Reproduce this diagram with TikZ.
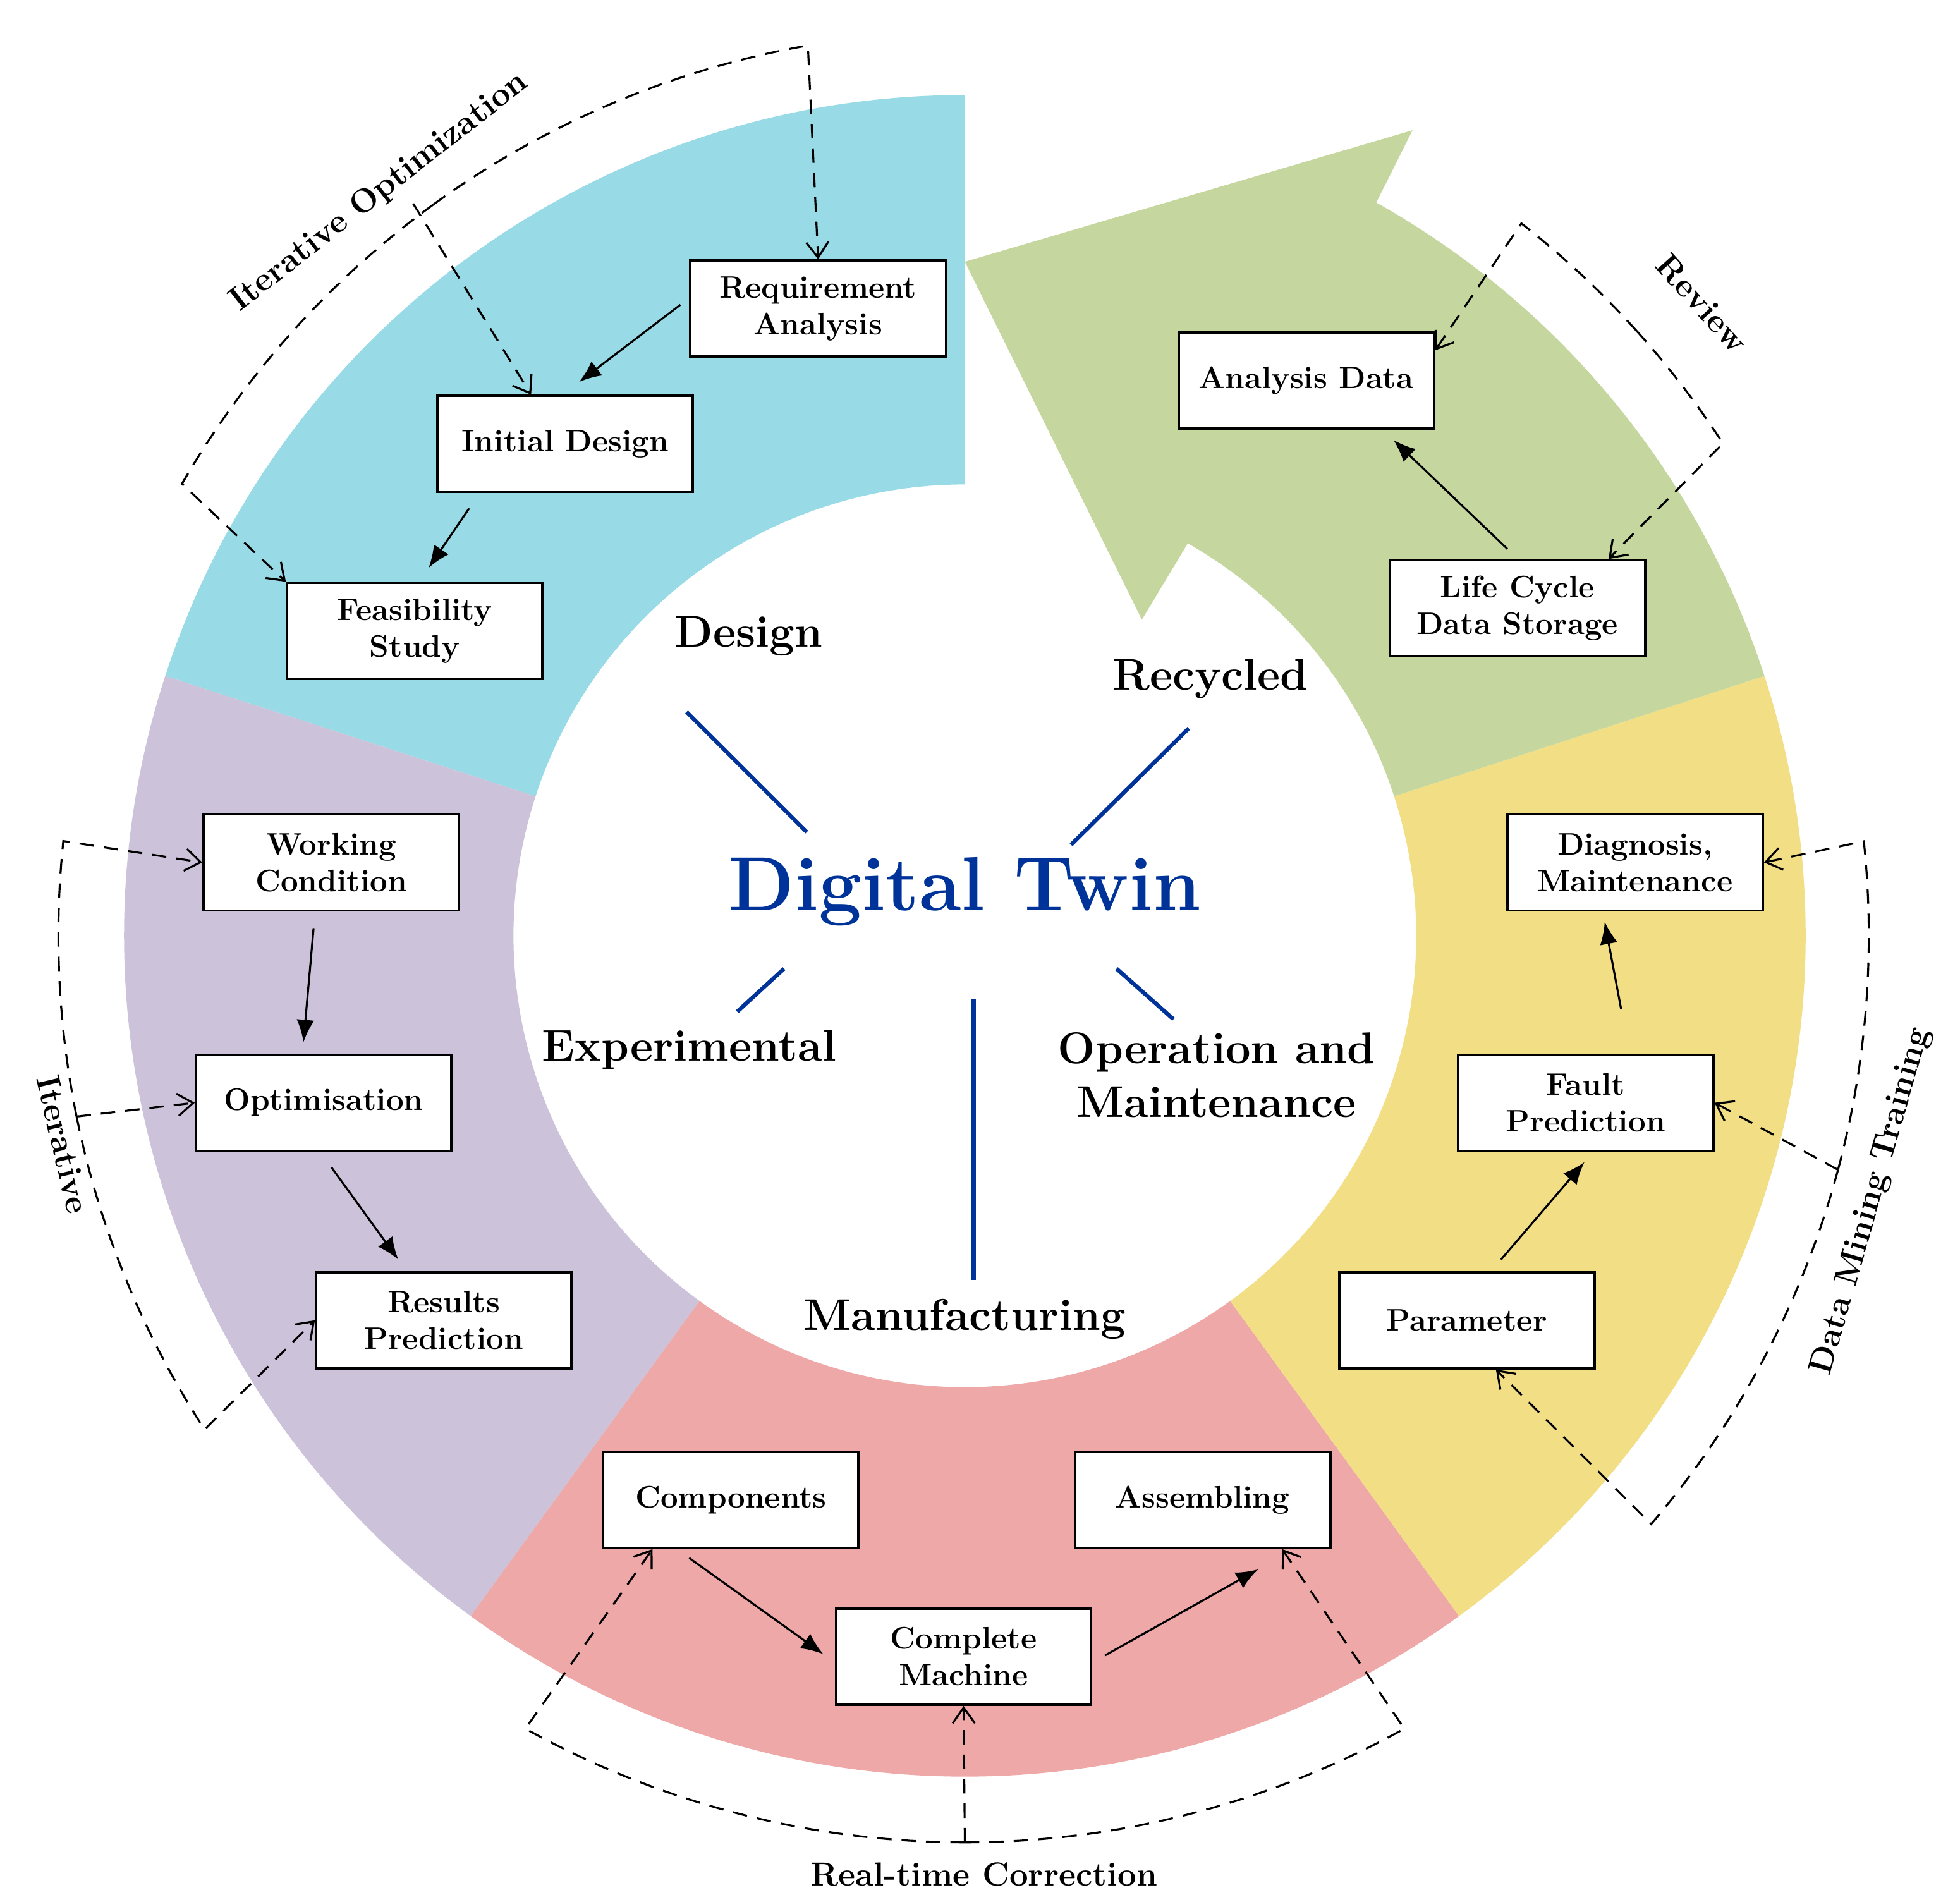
\documentclass[tikz,border=0pt]{standalone}
\usetikzlibrary{arrows.meta,calc}
\definecolor{cblue}{RGB}{152,219,230}
\definecolor{cpurp}{RGB}{204,195,219}
\definecolor{cred}{RGB}{238,168,167}
\definecolor{cyel}{RGB}{241,222,133}
\definecolor{cgreen}{RGB}{197,215,158}
\definecolor{dtblue}{RGB}{0,51,153}
\begin{document}
\begin{tikzpicture}[x=0.02cm,y=0.02cm,
  box/.style={draw,line width=1.1pt,fill=white,minimum width=4.04cm,minimum height=1.52cm,align=center,font=\bfseries\fontsize{14}{16.5}\selectfont,inner sep=1pt},
  sol/.style={line width=0.9pt,-{Latex[length=10pt,width=8pt]}},
  dsh/.style={line width=0.9pt,dash pattern=on 6.5pt off 4.5pt,-{Straight Barb[length=7pt,width=10pt]}},
  sec/.style={font=\bfseries\fontsize{20}{24}\selectfont,align=center},
  brl/.style={font=\bfseries\fontsize{15}{18}\selectfont},
  spoke/.style={line width=1.8pt,dtblue}]
\useasboundingbox (0,0) rectangle (1550,-1498.5);
\coordinate (c) at (763,-740);
% sectors
\fill[cblue] ($(c)+(90:13.3cm)$) arc[start angle=90,end angle=162,radius=13.3cm] -- ($(c)+(162:7.14cm)$) arc[start angle=162,end angle=90,radius=7.14cm] -- cycle;
\fill[cpurp] ($(c)+(162:13.3cm)$) arc[start angle=162,end angle=234,radius=13.3cm] -- ($(c)+(234:7.14cm)$) arc[start angle=234,end angle=162,radius=7.14cm] -- cycle;
\fill[cred] ($(c)+(234:13.3cm)$) arc[start angle=234,end angle=306,radius=13.3cm] -- ($(c)+(306:7.14cm)$) arc[start angle=306,end angle=234,radius=7.14cm] -- cycle;
\fill[cyel] ($(c)+(306:13.3cm)$) arc[start angle=306,end angle=378,radius=13.3cm] -- ($(c)+(378:7.14cm)$) arc[start angle=378,end angle=306,radius=7.14cm] -- cycle;
\fill[cgreen] ($(c)+(18:13.3cm)$) arc[start angle=18,end angle=60.7,radius=13.3cm] -- (1117,-103) -- (763,-207) -- (903,-490) -- ($(c)+(60.4:7.14cm)$) arc[start angle=60.4,end angle=18,radius=7.14cm] -- cycle;
% center
\node[font=\bfseries\fontsize{34.5}{40}\selectfont,text=dtblue] (dt) at (763,-705) {Digital Twin};
\draw[spoke] (543,-563) -- (638,-658);
\draw[spoke] (940,-576) -- (847,-668);
\draw[spoke] (620,-766) -- (583,-800);
\draw[spoke] (770,-790) -- (770,-1012);
\draw[spoke] (883,-766) -- (928,-806);
\node[sec] (lDes) at (592,-503) {Design};
\node[sec] (lRec) at (957,-537) {Recycled};
\node[sec] (lExp) at (545,-830) {Experimental};
\node[sec] (lMan) at (763,-1043) {Manufacturing};
\node[sec] (lOp) at (962,-850) {Operation and\\Maintenance};
% boxes
\node[box] (ReqA) at (647,-244) {Requirement\\Analysis};
\node[box] (Init) at (447,-351) {Initial Design};
\node[box] (Feas) at (328,-499) {Feasibility\\Study};
\node[box] (WC) at (262,-682) {Working\\Condition};
\node[box] (Opt) at (256,-872) {Optimisation};
\node[box] (Res) at (351,-1044) {Results\\Prediction};
\node[box] (Comp) at (578,-1186) {Components};
\node[box] (CM) at (762,-1310) {Complete\\Machine};
\node[box] (Asm) at (951,-1186) {Assembling};
\node[box] (Par) at (1160,-1044) {Parameter};
\node[box] (Fault) at (1254,-872) {Fault\\Prediction};
\node[box] (Diag) at (1293,-682) {Diagnosis,\\Maintenance};
\node[box] (LC) at (1200,-481) {Life Cycle\\Data Storage};
\node[box] (AD) at (1033,-301) {Analysis Data};
% solid arrows
\draw[sol] ($(ReqA.west)+(-7,3)$) -- ($(Init.north)+(11,10)$);
\draw[sol] ($(Init.south)+(-76,-12)$) -- ($(Feas.north)+(11,11)$);
\draw[sol] ($(WC.south)+(-14,-13)$) -- ($(Opt.north)+(-16,9)$);
\draw[sol] ($(Opt.south)+(6,-12)$) -- ($(Res.north)+(-36,9)$);
\draw[sol] ($(Comp.south)+(-33,-7)$) -- ($(CM.west)+(-9,2)$);
\draw[sol] ($(CM.east)+(10,1)$) -- ($(Asm.south)+(44,-16)$);
\draw[sol] ($(Par.north)+(27,9)$) -- ($(Fault.south)+(-1,-8)$);
\draw[sol] ($(Fault.north)+(28,35)$) -- ($(Diag.south)+(-24,-8)$);
\draw[sol] ($(LC.north)+(-8,8)$) -- ($(AD.south)+(69,-8)$);
% Iterative Optimization
\draw[dsh] ($(c)+(126:14.3cm)$) arc[start angle=126,end angle=100,radius=14.3cm] -- (ReqA.north);
\draw[dsh] ($(c)+(126:14.3cm)$) arc[start angle=126,end angle=150,radius=14.3cm] -- (Feas.north west);
\draw[dsh] ($(c)+(127:14.5cm)$) -- ($(Init.north)+(-27,0)$);
\node[brl,rotate=38] (tIO) at (300,-152) {Iterative Optimization};
% Iterative
\draw[dsh] ($(c)+(191.5:14.34cm)$) arc[start angle=191.5,end angle=174,radius=14.34cm] -- (WC.west);
\draw[dsh] ($(c)+(191.5:14.34cm)$) arc[start angle=191.5,end angle=213,radius=14.34cm] -- (Res.west);
\draw[dsh] ($(c)+(191.5:14.34cm)$) -- (Opt.west);
\node[brl,rotate=-77] (tIt) at (50,-905) {Iterative};
% Real-time Correction
\draw[dsh] ($(c)+(270:14.34cm)$) arc[start angle=270,end angle=241,radius=14.34cm] -- ($(Comp.south west)+(40,0)$);
\draw[dsh] ($(c)+(270:14.34cm)$) arc[start angle=270,end angle=299,radius=14.34cm] -- ($(Asm.south east)+(-39,0)$);
\draw[dsh] ($(c)+(270:14.34cm)$) -- (CM.south);
\node[brl] (tRT) at (778,-1482) {Real-time Correction};
% Data Mining Training
\draw[dsh] ($(c)+(-15:14.3cm)$) arc[start angle=-15,end angle=6,radius=14.3cm] -- (Diag.east);
\draw[dsh] ($(c)+(-15:14.3cm)$) arc[start angle=-15,end angle=-40.6,radius=14.3cm] -- ($(Par.south)+(23,0)$);
\draw[dsh] ($(c)+(-15:14.3cm)$) -- (Fault.east);
\node[brl,rotate=74] (tDM) at (1480,-950) {Data Mining Training};
% Review
\draw[dsh] ($(c)+(42:14.3cm)$) arc[start angle=42,end angle=52,radius=14.3cm] -- ($(AD.north east)+(0,-15)$);
\draw[dsh] ($(c)+(42:14.3cm)$) arc[start angle=42,end angle=33,radius=14.3cm] -- ($(LC.north)+(72,0)$);
\node[brl,rotate=-48] (tRv) at (1346,-240) {Review};
\end{tikzpicture}
\end{document}
